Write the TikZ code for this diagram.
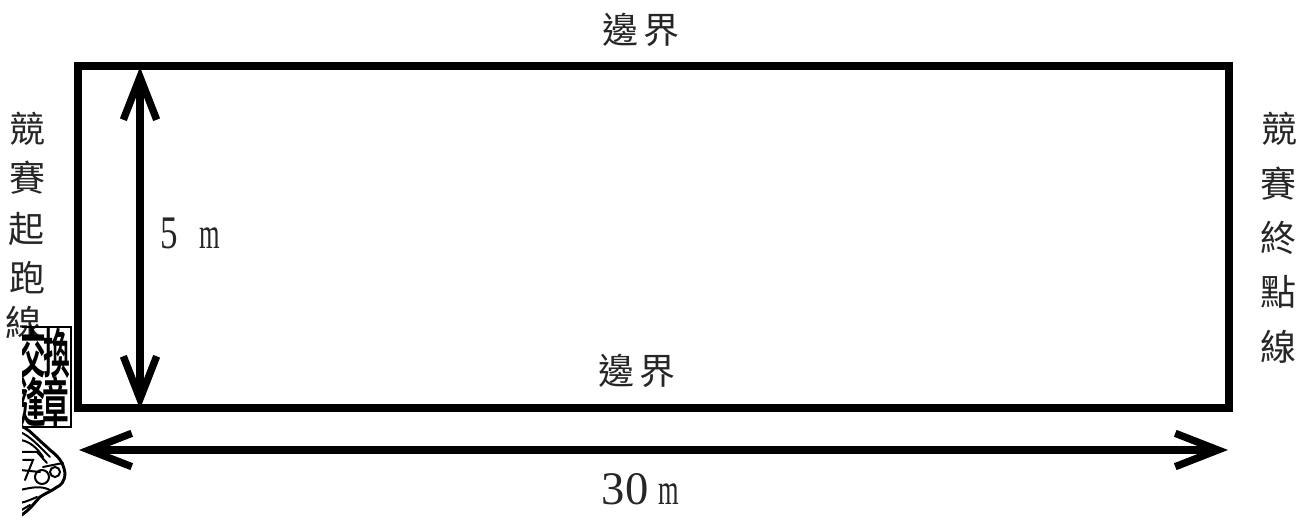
\documentclass[tikz,border=0pt]{standalone}
\usepackage{fontspec}
\usetikzlibrary{arrows.meta}
\newfontfamily\cjk{Noto Sans CJK TC}
\newfontfamily\cjkb{Noto Sans CJK TC Bold}
\setmainfont{Liberation Serif}
\tikzset{
  x=0.75pt,y=-0.75pt,
  lbl/.style={inner sep=0pt,font=\cjk\fontsize{27}{27}\selectfont,text=black!85},
  lat/.style={inner sep=0pt,font=\fontsize{35}{35}\selectfont,text=black!85},
  latm/.style={inner sep=0pt,font=\fontsize{33}{33}\selectfont,text=black!85,xscale=.6},
  stampch/.style={inner sep=0pt,font=\cjkb\fontsize{25}{25}\selectfont,xscale=.8,yscale=1.6},
  dim/.style={line width=6pt,{Straight Barb[length=32pt,width=25pt,line width=5.5pt]}-{Straight Barb[length=32pt,width=25pt,line width=5.5pt]}},
  sealline/.style={line width=1.5pt,line cap=round}
}
\begin{document}
\begin{tikzpicture}
\useasboundingbox (0,0) rectangle (1315,523);
\node[draw=black,line width=5.6pt,outer sep=0pt,minimum width=863.25pt,minimum height=256.5pt,inner sep=0pt,anchor=north west] (field) at (78,66) {};
\coordinate (vtop) at (140,67);
\coordinate (vbot) at (140,409);
\draw[dim] (vtop) -- (vbot);
\coordinate (hl) at (79,450);
\coordinate (hr) at (1228,450);
\draw[dim] (hl) -- (hr);
\node[lbl] (topedge) at (641,30) {邊\,界};
\node[lbl] (botedge) at (637,371) {邊\,界};
\node[lbl] (s1) at (27,129) {競};
\node[lbl] (s2) at (28,178) {賽};
\node[lbl] (s3) at (26,229) {起};
\node[lbl] (s4) at (27,278) {跑};
\node[lbl] (s5) at (24,323) {線};
\node[lbl] (e1) at (1279,129) {競};
\node[lbl] (e2) at (1278,184) {賽};
\node[lbl] (e3) at (1278,238) {終};
\node[lbl] (e4) at (1278,292) {點};
\node[lbl] (e5) at (1278,347) {線};
\node[lat,xscale=.75] (five) at (169,233) {5};
\node[latm] (fivem) at (210,238) {m};
\node[lat] (thirty) at (625,489) {30};
\node[latm] (thirtym) at (669,494) {m};
\begin{scope}
\clip (22,320) rectangle (80,523);
\draw[line width=1.8pt] (15,327) -- (71,327) -- (71,427) -- (15,427);
\node[stampch] (st1) at (33,353) {交};
\node[stampch] (st2) at (57,353) {換};
\node[stampch] (st3) at (33,402) {逢};
\node[stampch] (st4) at (56,402) {章};
\draw[sealline,line width=2.2pt] (20,426) .. controls (28,428) and (32,434) .. (37,438) .. controls (42,443) and (46,446) .. (50,450) .. controls (56,455) and (63,460) .. (65,473) .. controls (65,482) and (60,486) .. (57,487) .. controls (50,492) and (44,494) .. (40,497) .. controls (35,502) and (30,510) .. (20,516);
\draw[sealline] (20,432) .. controls (30,436) and (40,447) .. (50,457);
\draw[sealline] (20,440) .. controls (30,441) and (38,449) .. (43,457);
\draw[sealline] (20,452) -- (37,452) -- (47,463);
\draw[sealline] (23,460) -- (33,460) -- (25,480);
\draw[sealline] (20,470) -- (40,472);
\draw[sealline] (43,467) -- (63,463);
\draw[sealline] (42,477) circle (7);
\draw[sealline] (55,472) circle (5);
\draw[sealline] (20,490) .. controls (30,488) and (40,485) .. (50,490);
\draw[sealline] (20,503) .. controls (26,502) and (32,499) .. (37,497);
\draw[sealline] (20,511) -- (30,505);
\end{scope}
\end{tikzpicture}
\end{document}
